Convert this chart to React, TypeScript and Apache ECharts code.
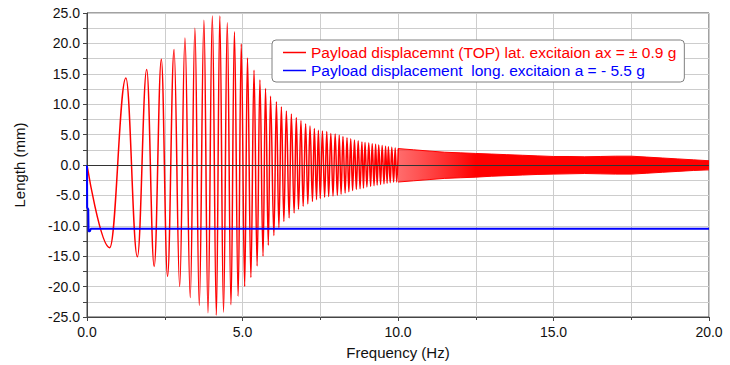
import React, { useEffect, useRef } from "react";
import * as echarts from "echarts";

// Red: extrema of the lateral-excitation response (Hz, mm)
const redFreq = [
  0, 0.73, 1.25, 1.62, 1.92, 2.16, 2.39, 2.59, 2.8, 2.98, 3.15, 3.32, 3.47, 3.61, 3.76, 3.89,
  4.03, 4.16, 4.27, 4.39, 4.51, 4.63, 4.74, 4.86, 4.96, 5.07, 5.16, 5.27, 5.37, 5.47, 5.56, 5.66,
  5.74, 5.83, 5.9, 6.01, 6.09, 6.17, 6.25, 6.33, 6.41, 6.5, 6.57, 6.66, 6.73, 6.8, 6.88, 6.95,
  7.03, 7.1, 7.17, 7.25, 7.31, 7.38, 7.44, 7.5, 7.57, 7.64, 7.71, 7.77, 7.84, 7.91, 7.98, 8.05,
  8.11, 8.17, 8.23, 8.3, 8.36, 8.42, 8.48, 8.54, 8.6, 8.66, 8.72, 8.78, 8.84, 8.89, 8.94, 9.0,
  9.06, 9.12, 9.17, 9.23, 9.28, 9.33, 9.38, 9.44, 9.49, 9.55, 9.6, 9.65, 9.69, 9.75, 9.8, 9.86,
  9.91, 9.96, 10.01,
];
const redDisp = [
  0, -13.6, 14.3, -15.1, 15.7, -16.7, 17.4, -18.3, 19.0, -20.0, 20.9, -21.8, 22.5, -23.1, 23.8, -24.3,
  24.5, -24.7, 24.5, -24.2, 23.4, -23.0, 21.9, -21.6, 19.9, -20.0, 17.6, -18.5, 15.6, -16.6, 14.0, -15.0,
  12.6, -13.2, 11.3, -11.6, 10.4, -10.3, 9.6, -9.3, 8.9, -8.7, 8.4, -7.9, 7.8, -7.3, 7.3, -6.8,
  6.8, -6.4, 6.4, -6.0, 6.0, -5.7, 5.7, -5.5, 5.6, -5.3, 5.5, -5.2, 5.2, -5.1, 5.1, -5.0,
  4.9, -4.8, 4.7, -4.6, 4.5, -4.4, 4.3, -4.2, 4.1, -4.0, 4.0, -3.9, 3.8, -3.8, 3.7, -3.6,
  3.6, -3.5, 3.5, -3.4, 3.4, -3.3, 3.3, -3.2, 3.2, -3.1, 3.1, -3.0, 3.0, -2.9, 2.9, -2.8,
  2.8, -2.8, 2.7,
];

// Red, dense part (10–20 Hz): upper and lower envelope of the band
const bandFreq = [10, 10.5, 11, 11.5, 12, 12.5, 13, 13.5, 14, 14.5, 15, 15.5, 16, 16.5, 17, 17.5, 18, 18.5, 19, 19.5, 20];
const bandUpper = [2.7, 2.5, 2.3, 2.1, 2.0, 1.9, 1.8, 1.7, 1.6, 1.5, 1.4, 1.4, 1.35, 1.4, 1.45, 1.45, 1.3, 1.15, 1.0, 0.85, 0.7];
const bandLower = [-2.8, -2.6, -2.4, -2.2, -2.1, -2.0, -1.85, -1.75, -1.65, -1.55, -1.5, -1.45, -1.4, -1.45, -1.5, -1.5, -1.35, -1.2, -1.05, -0.9, -0.8];

// Blue: longitudinal-excitation response
const blueFreq = [0, 0.005, 0.04, 0.05, 0.09, 0.12, 20];
const blueDisp = [0, -7.0, -7.3, -10.9, -10.9, -10.5, -10.5];

const xTicks = { min: 0, max: 20, interval: 5 };
const yTicks = { min: -25, max: 25, interval: 5 };

const RED_NAME = "Payload displacemnt (TOP) lat. excitaion ax = ± 0.9 g";
const BLUE_NAME = "Payload displacement  long. excitaion a = - 5.5 g";

const FONT = "'Liberation Sans', Arial, sans-serif";

const zip = (xs: number[], ys: number[]) => xs.map((x, i) => [x, ys[i]]);

export default function App() {
  const ref = useRef<HTMLDivElement>(null);
  useEffect(() => {
    const chart = echarts.init(ref.current!, null, { renderer: "svg" });
    const gridColor = "#cdcdcd";
    const bandFill = new echarts.graphic.LinearGradient(0, 0, 1, 0, [
      { offset: 0, color: "rgba(255,60,60,0.75)" },
      { offset: 0.25, color: "rgba(255,0,0,1)" },
      { offset: 1, color: "rgba(255,0,0,1)" },
    ]);
    chart.setOption({
      animation: false,
      backgroundColor: "#ffffff",
      textStyle: { fontFamily: FONT },
      grid: {
        left: 87,
        right: 21,
        top: 13,
        bottom: 47,
        show: true,
        borderColor: "#444",
        borderWidth: 1,
        containLabel: false,
      },
      legend: {
        data: [
          { name: RED_NAME, textStyle: { color: "#ff0000" } },
          { name: BLUE_NAME, textStyle: { color: "#0000ff" } },
        ],
        orient: "vertical",
        left: 272,
        top: 40,
        padding: [4, 8, 3, 11],
        itemGap: 1,
        itemWidth: 23,
        itemHeight: 1.5,
        icon: "rect",
        backgroundColor: "#ffffff",
        borderColor: "#808080",
        borderWidth: 1,
        borderRadius: 4,
        selectedMode: false,
        textStyle: { fontSize: 15.5, fontFamily: FONT, lineHeight: 17 },
      },
      xAxis: {
        type: "value",
        ...xTicks,
        name: "Frequency (Hz)",
        nameLocation: "middle",
        nameGap: 28,
        nameTextStyle: { fontSize: 15, color: "#111", fontFamily: FONT },
        axisLine: { show: true, onZero: false, lineStyle: { color: "#444" } },
        axisTick: { show: true, length: 4, lineStyle: { color: "#444" } },
        minorTick: { show: true, splitNumber: 2, length: 3, lineStyle: { color: "#444" } },
        axisLabel: {
          fontSize: 14,
          color: "#111",
          margin: 8,
          fontFamily: FONT,
          formatter: (v: number) => v.toFixed(1),
        },
        splitLine: { show: true, lineStyle: { color: gridColor, width: 1 } },
        minorSplitLine: { show: true, lineStyle: { color: gridColor, width: 1 } },
      },
      yAxis: {
        type: "value",
        ...yTicks,
        name: "Length (mm)",
        nameLocation: "middle",
        nameGap: 60,
        nameTextStyle: { fontSize: 15, color: "#111", fontFamily: FONT },
        axisLine: { show: true, onZero: false, lineStyle: { color: "#444" } },
        axisTick: { show: true, length: 4, lineStyle: { color: "#444" } },
        minorTick: { show: true, splitNumber: 2, length: 4, lineStyle: { color: "#444" } },
        axisLabel: {
          fontSize: 14,
          color: "#111",
          margin: 7,
          fontFamily: FONT,
          formatter: (v: number) => v.toFixed(1),
        },
        splitLine: { show: true, lineStyle: { color: gridColor, width: 1 } },
        minorSplitLine: { show: true, lineStyle: { color: gridColor, width: 1 } },
      },
      series: [
        {
          name: "band-upper",
          type: "line",
          data: zip(bandFreq, bandUpper),
          showSymbol: false,
          silent: true,
          lineStyle: { color: "#ff0000", width: 1 },
          areaStyle: { color: bandFill, opacity: 1 },
          z: 2,
        },
        {
          name: "band-lower",
          type: "line",
          data: zip(bandFreq, bandLower),
          showSymbol: false,
          silent: true,
          lineStyle: { color: "#ff0000", width: 1 },
          areaStyle: { color: bandFill, opacity: 1 },
          z: 2,
        },
        {
          name: RED_NAME,
          type: "line",
          data: zip(redFreq, redDisp),
          showSymbol: false,
          smooth: 0.4,
          smoothMonotone: "x",
          color: "#ff0000",
          lineStyle: { color: "#ff0000", width: 1.5 },
          z: 3,
        },
        {
          name: BLUE_NAME,
          type: "line",
          data: zip(blueFreq, blueDisp),
          showSymbol: false,
          color: "#0000ff",
          lineStyle: { color: "#0000ff", width: 2 },
          z: 4,
          markLine: {
            silent: true,
            symbol: "none",
            label: { show: false },
            lineStyle: { color: "#333", width: 1, type: "solid" },
            data: [{ yAxis: 0 }],
          },
        },
      ],
    });
    return () => chart.dispose();
  }, []);
  return (
    <div
      ref={ref}
      style={{ position: "fixed", left: 0, top: 0, width: 730, height: 365 }}
    />
  );
}
